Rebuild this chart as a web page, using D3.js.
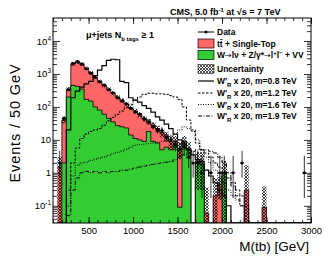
<!DOCTYPE html>
<html>
<head>
<meta charset="UTF-8">
<script src="https://d3js.org/d3.v7.min.js"></script>
<style>
  body { margin: 0; background: #fff; }
  svg { display: block; font-family: "Liberation Sans", Arial, sans-serif; }
</style>
</head>
<body>
<svg id="chart" width="332" height="257"></svg>
<script>
// bin lower edges, GeV (50 GeV bins)
const binLow = [150, 200, 250, 300, 350, 400, 450, 500, 550, 600, 650, 700, 750, 800, 850, 900, 950,
  1000, 1050, 1100, 1150, 1200, 1250, 1300, 1350, 1400, 1450, 1500, 1550, 1600, 1650, 1700, 1750,
  1800, 1850, 1900, 1950, 2000, 2050, 2100, 2150, 2200, 2250, 2300, 2350, 2400, 2450, 2500, 2550,
  2600, 2650, 2700, 2750, 2800, 2850, 2900, 2950];
const binWidth = 50;

// W->lv + Z/g*->ll + VV
const wjets = [0, 2, 200, 450, 420, 350, 170, 150, 100, 80, 60, 45, 35, 27, 25, 23, 14,
  11, 10, 9, 18, 9, 8, 5, 6, 5, 8, 0.09, 8, 5, 0, 2, 2.2,
  0, 0, 0, 0, 1.0, 0, 0, 0, 0, 0, 0, 0, 0, 0, 0, 0,
  0, 0, 0, 0, 0, 0, 0, 0];
// ttbar + single top
const ttbar = [1.5, 38, 150, 1550, 1880, 1650, 1330, 950, 700, 520, 390, 305, 225, 173, 135, 97, 81,
  64, 48, 36, 18, 19, 14, 12, 7, 4, 1, 5.5, 1, 0.6, 0, 0.3, 0.1,
  0.06, 0, 0.2, 0.45, 0, 0, 0, 0, 0, 0.3, 0, 0, 0, 0.09, 0, 0,
  0, 0, 0, 0, 0, 0, 0, 0];
// absolute uncertainty on the stack
const uncert = [1.5, 8, 50, 250, 280, 240, 180, 130, 100, 75, 55, 45, 35, 28, 22, 18, 15,
  12, 10, 8, 7, 6, 5, 5, 4, 4, 4, 3, 4, 3, 0, 2, 2,
  0.3, 0, 0.5, 0.3, 1.3, 0, 0, 0, 0, 1.4, 0, 0, 0, 0.3, 0, 0,
  0, 0, 0, 0, 0, 0, 0, 0];
const data = [2, 45, 330, 2100, 2400, 2000, 1450, 1050, 790, 580, 460, 330, 270, 190, 150, 125, 90,
  70, 60, 42, 35, 26, 20, 19, 12, 10, 7, 5, 6, 3, 2, 2, 1,
  0, 1, 0, 1, 1, 0, 1, 0, 2, 0, 0, 0, 0, 0, 0, 0,
  0, 0, 0, 0, 0, 0, 1, 0];

// W'_R x 20 signals
const sig08 = [0, 0, 20, 190, 300, 400, 500, 600, 900, 1300, 1800, 2600, 2800, 2700, 600, 550, 190,
  160, 140, 110, 90, 70, 50, 40, 30, 22, 15, 10, 7, 5, 3.5, 2.5, 1.8,
  1.2, 0.8, 0.5, 0.3, 0.2, 0.1, 0, 0, 0, 0, 0, 0, 0, 0, 0, 0,
  0, 0, 0, 0, 0, 0, 0, 0];
const sig12 = [0, 0, 0.3, 2, 5.6, 11, 15, 18, 20, 22, 28, 38, 48, 60, 75, 95, 120,
  160, 200, 240, 260, 260, 250, 250, 240, 220, 200, 170, 100, 40, 20, 8, 5,
  4, 3, 2, 1.5, 1, 0.7, 0.5, 0.3, 0.2, 0.1, 0, 0, 0, 0, 0, 0,
  0, 0, 0, 0, 0, 0, 0, 0];
const sig16 = [0, 0, 0.1, 0.8, 1.7, 2, 2.1, 2.4, 2.6, 2.8, 3, 3.4, 3.8, 4.2, 4.6, 5.2, 6,
  6.9, 7.2, 7.5, 7.8, 8, 8.5, 9, 10, 11, 15, 20, 25, 22, 18, 10, 5,
  3, 2, 1.2, 0.8, 0.5, 0.3, 0.2, 0.15, 0.1, 0, 0, 0, 0, 0, 0, 0,
  0, 0, 0, 0, 0, 0, 0, 0];
const sig19 = [0, 0, 0.05, 0.3, 0.7, 1.0, 1.1, 1.0, 1.1, 1.0, 1.1, 1.0, 1.1, 1.1, 1.2, 1.2, 1.3,
  1.4, 1.5, 1.6, 1.7, 1.8, 1.9, 2.0, 2.1, 2.2, 2.5, 3, 3.5, 4, 4.5, 5, 5,
  5, 4.5, 4, 3, 2, 1, 0.4, 0.2, 0.1, 0, 0, 0, 0, 0, 0, 0,
  0, 0, 0, 0, 0, 0, 0, 0];

const xTicks = [500, 1000, 1500, 2000, 2500, 3000];
const yTicks = [0.1, 1, 10, 100, 1000, 10000];
const yTickBase = ["10", "1", "10", "10", "10", "10"];
const yTickExp = ["-1", "", "", "2", "3", "4"];

const pink = "#ff6666", green = "#33cc33";
const svg = d3.select("#chart");
const pL = 53, pR = 311, pT = 18, pB = 223;
const yMin = 0.03;

const x = d3.scaleLinear().domain([100, 3000]).range([pL, pR]);
const y = d3.scaleLog().domain([yMin, 5e4]).range([pB, pT]);
const cl = v => Math.max(v, yMin);

const defs = svg.append("defs");
defs.append("clipPath").attr("id", "plotclip")
  .append("rect").attr("x", pL).attr("y", pT).attr("width", pR - pL).attr("height", pB - pT);
const hatch = defs.append("pattern").attr("id", "hatch")
  .attr("patternUnits", "userSpaceOnUse").attr("width", 3).attr("height", 3);
hatch.append("path").attr("d", "M0,0 L3,3 M3,0 L0,3").attr("stroke", "#000").attr("stroke-width", 0.7);

function steps(vals) {
  const pts = binLow.map((b, i) => [b, vals[i]]);
  pts.push([binLow[binLow.length - 1] + binWidth, vals[vals.length - 1]]);
  return pts;
}

const total = wjets.map((w, i) => w + ttbar[i]);
const area = d3.area().x(d => x(d[0])).y0(pB).y1(d => y(cl(d[1]))).curve(d3.curveStepAfter);
const line = d3.line().x(d => x(d[0])).y(d => y(cl(d[1]))).curve(d3.curveStepAfter);

const g = svg.append("g").attr("clip-path", "url(#plotclip)");

g.append("path").attr("d", area(steps(total))).attr("fill", pink);
g.append("path").attr("d", line(steps(total))).attr("fill", "none").attr("stroke", "#000").attr("stroke-width", 0.8);
g.append("path").attr("d", area(steps(wjets))).attr("fill", green);
g.append("path").attr("d", line(steps(wjets))).attr("fill", "none").attr("stroke", "#000").attr("stroke-width", 0.8);

// uncertainty band
g.selectAll("rect.unc")
  .data(binLow.map((b, i) => ({ b, t: total[i], u: uncert[i] })).filter(d => d.u > 0))
  .join("rect")
  .attr("x", d => x(d.b))
  .attr("width", d => x(d.b + binWidth) - x(d.b))
  .attr("y", d => y(d.t + d.u))
  .attr("height", d => y(cl(d.t - d.u)) - y(d.t + d.u))
  .attr("fill", "url(#hatch)");

// signals
const sigs = [
  { v: sig08, dash: null, w: 1.2 },
  { v: sig12, dash: "2.5,1.5", w: 1 },
  { v: sig16, dash: "1,1.5", w: 1 },
  { v: sig19, dash: "4,1.5,1,1.5", w: 1 }
];
sigs.forEach(s => {
  g.append("path").attr("d", line(steps(s.v))).attr("fill", "none")
    .attr("stroke", "#000").attr("stroke-width", s.w)
    .attr("stroke-dasharray", s.dash);
});

// data with Poisson errors
function pLo(n) { return n * Math.pow(1 - 1 / (9 * n) - 1 / (3 * Math.sqrt(n)), 3); }
function pHi(n) { const m = n + 1; return m * Math.pow(1 - 1 / (9 * m) + 1 / (3 * Math.sqrt(m)), 3); }
const pts = binLow.map((b, i) => ({ b, n: data[i] })).filter(d => d.n > 0);
const dg = g.append("g");
pts.forEach(d => {
  const cx = x(d.b + binWidth / 2), cy = y(d.n);
  dg.append("line").attr("x1", x(d.b)).attr("x2", x(d.b + binWidth)).attr("y1", cy).attr("y2", cy)
    .attr("stroke", "#000").attr("stroke-width", 0.8);
  dg.append("line").attr("x1", cx).attr("x2", cx).attr("y1", y(pHi(d.n))).attr("y2", y(cl(pLo(d.n))))
    .attr("stroke", "#000").attr("stroke-width", 0.8);
  dg.append("circle").attr("cx", cx).attr("cy", cy).attr("r", 1.5).attr("fill", "#000");
});

// axes
const minorX = d3.range(100, 3001, 100);
const minorY = [];
for (let k = -2; k <= 4; k++) for (let j = 2; j <= 9; j++) {
  const v = j * Math.pow(10, k);
  if (v > yMin && v < 5e4) minorY.push(v);
}
function styleAxis(sel) {
  sel.select(".domain").remove();
  sel.selectAll("line").attr("stroke", "#000").attr("stroke-width", 0.8);
  sel.selectAll("text").attr("fill", "#000");
}
svg.append("g").attr("transform", `translate(0,${pB})`)
  .call(d3.axisBottom(x).tickValues(minorX).tickSize(-3).tickFormat("")).call(styleAxis);
const xa = svg.append("g").attr("transform", `translate(0,${pB})`)
  .call(d3.axisBottom(x).tickValues(xTicks).tickSize(-6).tickPadding(4).tickFormat(d3.format("d")))
  .call(styleAxis);
xa.selectAll("text").attr("font-size", 9.5).attr("font-family", "Liberation Sans, Arial, sans-serif");
svg.append("g").attr("transform", `translate(0,${pT})`)
  .call(d3.axisTop(x).tickValues(minorX).tickSize(-3).tickFormat("")).call(styleAxis);
svg.append("g").attr("transform", `translate(0,${pT})`)
  .call(d3.axisTop(x).tickValues(xTicks).tickSize(-6).tickFormat("")).call(styleAxis);

svg.append("g").attr("transform", `translate(${pL},0)`)
  .call(d3.axisLeft(y).tickValues(minorY).tickSize(-4).tickFormat("")).call(styleAxis);
svg.append("g").attr("transform", `translate(${pL},0)`)
  .call(d3.axisLeft(y).tickValues(yTicks).tickSize(-7).tickFormat("")).call(styleAxis);
svg.append("g").attr("transform", `translate(${pR},0)`)
  .call(d3.axisRight(y).tickValues(minorY).tickSize(-4).tickFormat("")).call(styleAxis);
svg.append("g").attr("transform", `translate(${pR},0)`)
  .call(d3.axisRight(y).tickValues(yTicks).tickSize(-7).tickFormat("")).call(styleAxis);

// y tick labels with exponents
yTicks.forEach((v, i) => {
  const t = svg.append("text").attr("x", pL - 2).attr("y", y(v) + 3.5)
    .attr("text-anchor", "end").attr("font-size", 9.5);
  t.append("tspan").text(yTickBase[i]);
  if (yTickExp[i]) t.append("tspan").attr("dy", -4).attr("font-size", 6.5).text(yTickExp[i]);
});

// frame
svg.append("rect").attr("x", pL).attr("y", pT).attr("width", pR - pL).attr("height", pB - pT)
  .attr("fill", "none").attr("stroke", "#000").attr("stroke-width", 1);

// axis titles
svg.append("text").attr("x", 309).attr("y", 251).attr("text-anchor", "end")
  .attr("font-size", 13.5).text("M(tb) [GeV]");
svg.append("text").attr("transform", "translate(20,123) rotate(-90)").attr("text-anchor", "middle")
  .attr("font-size", 14.5).attr("letter-spacing", 0.9).text("Events / 50 GeV");

// title
const title = svg.append("text").attr("x", 170).attr("y", 15).attr("font-size", 9).attr("font-weight", "bold");
title.append("tspan").text("CMS, 5.0 fb");
title.append("tspan").attr("dy", -3.5).attr("font-size", 6).text("-1");
title.append("tspan").attr("dy", 3.5).text(" at \u221As = 7 TeV");

const sel = svg.append("text").attr("x", 86).attr("y", 38).attr("font-size", 9).attr("font-weight", "bold");
sel.append("tspan").text("\u03BC+jets N");
sel.append("tspan").attr("dy", 3).attr("font-size", 6).text("b tags");
sel.append("tspan").attr("dy", -3).text(" \u2265 1");

// legend
const lx = 198, lw = 16, tx = 217;
const leg = svg.append("g").attr("font-size", 8.5).attr("font-weight", "bold");
function legText(yc, parts) {
  const t = leg.append("text").attr("x", tx).attr("y", yc + 3);
  parts.forEach(p => {
    const s = t.append("tspan").text(p[0]);
    if (p[1]) s.attr("dy", p[1]);
    if (p[2]) s.attr("font-size", p[2]);
    if (p[3]) s.attr("font-family", p[3]).attr("font-weight", "normal");
  });
}
// data
leg.append("line").attr("x1", lx).attr("x2", lx + lw).attr("y1", 32).attr("y2", 32).attr("stroke", "#000");
leg.append("circle").attr("cx", lx + lw / 2).attr("cy", 32).attr("r", 1.5);
legText(32, [["Data"]]);
leg.append("rect").attr("x", lx).attr("y", 39).attr("width", lw).attr("height", 9)
  .attr("fill", pink).attr("stroke", "#000").attr("stroke-width", 0.7);
legText(43.5, [["tt\u0304 + Single-Top"]]);
leg.append("rect").attr("x", lx).attr("y", 50.5).attr("width", lw).attr("height", 9)
  .attr("fill", green).attr("stroke", "#000").attr("stroke-width", 0.7);
const arrowFont = "DejaVu Sans";
legText(55, [["W"], ["\u2192", 0, 8, arrowFont], ["l\u03BD + Z/\u03B3*"], ["\u2192", 0, 8, arrowFont], ["l"],
  ["+", -3, 6], ["l", 3], ["\u2212", -3, 6], [" + VV", 3]]);
leg.append("rect").attr("x", lx).attr("y", 64.5).attr("width", lw).attr("height", 9)
  .attr("fill", "url(#hatch)").attr("stroke", "#000").attr("stroke-width", 0.5);
legText(69, [["Uncertainty"]]);
const sigNames = ["0.8", "1.2", "1.6", "1.9"];
const sigY = [81, 93, 104.5, 116];
sigs.forEach((s, i) => {
  leg.append("line").attr("x1", lx).attr("x2", lx + lw).attr("y1", sigY[i]).attr("y2", sigY[i])
    .attr("stroke", "#000").attr("stroke-width", s.w).attr("stroke-dasharray", s.dash);
  legText(sigY[i], [["W'"], ["R", 2.5, 6], [" x 20, m=" + sigNames[i] + " TeV", -2.5]]);
});
</script>
</body>
</html>
